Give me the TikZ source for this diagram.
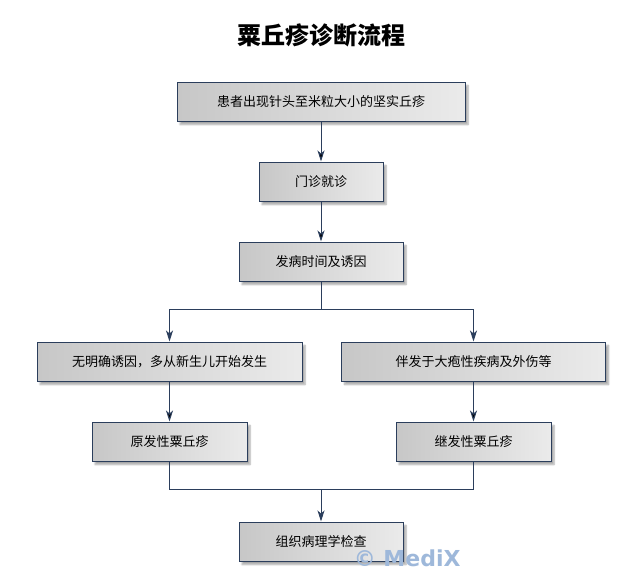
\documentclass[tikz,border=0pt]{standalone}
\usepackage{fontspec}
\newfontfamily\cjk{Noto Sans CJK SC}
\newfontfamily\markfont{DejaVu Sans}
\usetikzlibrary{arrows.meta,shadows.blur}
\definecolor{edgeblue}{RGB}{43,62,92}
\definecolor{markblue}{RGB}{158,184,218}
\begin{document}
\begin{tikzpicture}[x=1pt, y=-1pt, line width=1pt, >={Stealth[length=11pt,width=7pt,inset=3pt]},flow/.style={->,draw=edgeblue},box node/.style={rectangle,draw=edgeblue,left color=black!22,right color=black!8,inner sep=0pt,minimum height=39pt,font=\cjk\fontsize{13}{15}\selectfont,blur shadow={shadow xshift=3pt,shadow yshift=-3.5pt,shadow blur steps=6,shadow opacity=35}}]
\useasboundingbox (0,0) rectangle (642,570);
\node[font=\cjk\bfseries\fontsize{24}{28}\selectfont] (title) at (321,35) {粟丘疹诊断流程};
\node[box node, minimum width=288pt] (v1) at (321,101.5) {患者出现针头至米粒大小的坚实丘疹};
\node[box node, minimum width=124pt] (v2) at (321,181.5) {门诊就诊};
\node[box node, minimum width=164pt] (v3) at (321,261.5) {发病时间及诱因};
\node[box node, minimum width=265pt] (v4a) at (169.5,361.5) {无明确诱因，多从新生儿开始发生};
\node[box node, minimum width=264pt] (v4b) at (473.5,361.5) {伴发于大疱性疾病及外伤等};
\node[box node, minimum width=155pt] (v5a) at (169.5,441.5) {原发性粟丘疹};
\node[box node, minimum width=155pt] (v5b) at (473.5,441.5) {继发性粟丘疹};
\node[box node, minimum width=164pt] (v6) at (321,541.5) {组织病理学检查};
\coordinate (split) at (321,309);
\coordinate (merge) at (321,489);
\draw[flow] (v1) edge (v2);
\draw[flow] (v2) edge (v3);
\draw[draw=edgeblue] (v3) -- (split);
\draw[flow] (split) -| (v4a);
\draw[flow] (split) -| (v4b);
\draw[flow] (v4a) edge (v5a);
\draw[flow] (v4b) edge (v5b);
\draw[draw=edgeblue] (v5a) |- (merge);
\draw[draw=edgeblue] (v5b) |- (merge);
\draw[flow] (merge) -- (v6);
\node[anchor=base west, font=\markfont\bfseries\fontsize{22}{26}\selectfont, text=markblue] (mark) at (350,566) {© MediX};
\end{tikzpicture}
\end{document}
